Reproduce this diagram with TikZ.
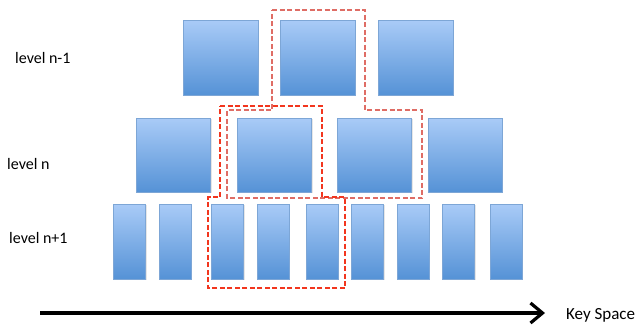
\documentclass[tikz,border=0pt]{standalone}
\usepackage{fontspec}
\setmainfont{Carlito}
\usetikzlibrary{arrows.meta, shadows}

\definecolor{blocktop}{HTML}{A9CBF7}
\definecolor{blockbot}{HTML}{5592D6}
\definecolor{blockedge}{HTML}{7DA6D6}
\definecolor{readA}{HTML}{D9534A}
\definecolor{readB}{HTML}{F2361E}

\begin{document}
\begin{tikzpicture}[
    x=1pt, y=-1pt,
    font=\fontsize{16}{19}\selectfont,
    block/.style={draw=blockedge, line width=0.6pt, top color=blocktop,
                  bottom color=blockbot, inner sep=0pt,
                  drop shadow={opacity=0.2, shadow xshift=1pt, shadow yshift=-1pt}},
    wide/.style={block, minimum width=75pt, minimum height=75pt},
    slim/.style={block, minimum width=32pt, minimum height=75pt},
    lvl/.style={anchor=west, inner sep=0pt},
    rangeA/.style={draw=readA, line width=1.8pt, dash pattern=on 5pt off 2.5pt,
                   opacity=0.85},
    rangeB/.style={draw=readB, line width=2.2pt, dash pattern=on 5pt off 2.5pt},
    axis/.style={-{Straight Barb[length=12pt, width=20pt, line width=3.2pt]},
                 line width=3.6pt},
]
    \useasboundingbox (0,0) rectangle (641,327);

    %==================== LEVEL n-1 ====================
    \node[lvl] (l1) at (15,58) {level n-1};
    \node[wide] (a1) at (220.5,57.5) {};
    \node[wide] (a2) at (317.5,57.5) {};
    \node[wide] (a3) at (415.5,57.5) {};

    %==================== LEVEL n ====================
    \node[lvl] (l2) at (7,164) {level n};
    \node[wide, minimum width=74pt, minimum height=74pt] (b1) at (173.5,155) {};
    \node[wide, minimum width=74pt, minimum height=74pt] (b2) at (274.5,155) {};
    \node[wide, minimum width=74pt, minimum height=74pt] (b3) at (374.5,155) {};
    \node[wide, minimum width=74pt, minimum height=74pt] (b4) at (465,155) {};

    %==================== LEVEL n+1 ====================
    \node[lvl] (l3) at (9,238) {level n+1};
    \node[slim] (c1) at (129.5,241.5) {};
    \node[slim] (c2) at (175,241.5) {};
    \node[slim] (c3) at (227.5,241.5) {};
    \node[slim] (c4) at (273,241.5) {};
    \node[slim] (c5) at (322,241.5) {};
    \node[slim] (c6) at (367.5,241.5) {};
    \node[slim] (c7) at (413,241.5) {};
    \node[slim] (c8) at (458.5,241.5) {};
    \node[slim] (c9) at (506,241.5) {};

    %==================== overlapping ranges ====================
    \draw[rangeA] (272,10) -- (365,10) -- (365,110) -- (422,110) -- (422,198)
        -- (227,198) -- (227,110) -- (272,110) -- cycle;
    \draw[rangeB] (220,106) -- (322,106) -- (322,197) -- (345,197) -- (345,288)
        -- (208,288) -- (208,197) -- (220,197) -- cycle;

    %==================== KEY SPACE axis ====================
    \coordinate (origin) at (40,313);
    \node[anchor=west, inner sep=0pt, font=\fontsize{17}{20}\selectfont] (key)
        at (566,315) {Key Space};
    \draw[axis] (origin) -- ([xshift=-21pt]key.west |- origin);

\end{tikzpicture}
\end{document}
